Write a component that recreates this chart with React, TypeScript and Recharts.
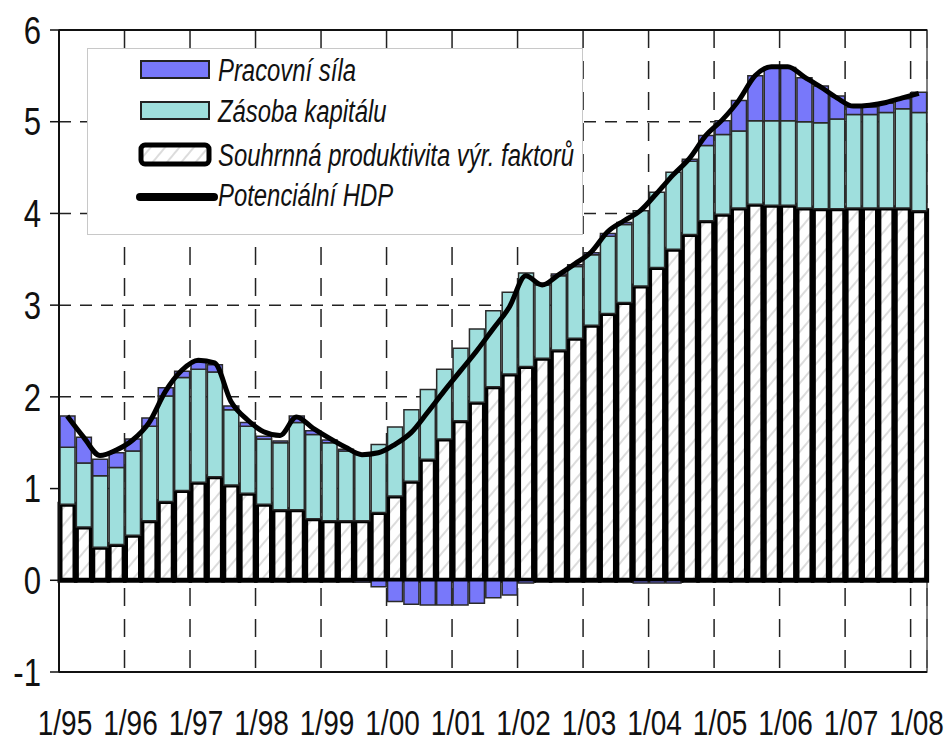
import React from "react";
import {
  ComposedChart,
  Bar,
  Line,
  XAxis,
  YAxis,
  CartesianGrid,
  Legend,
  ReferenceLine,
  ReferenceArea,
} from "recharts";

const quarters = [
  "1/95", "2/95", "3/95", "4/95", "1/96", "2/96", "3/96", "4/96",
  "1/97", "2/97", "3/97", "4/97", "1/98", "2/98", "3/98", "4/98",
  "1/99", "2/99", "3/99", "4/99", "1/00", "2/00", "3/00", "4/00",
  "1/01", "2/01", "3/01", "4/01", "1/02", "2/02", "3/02", "4/02",
  "1/03", "2/03", "3/03", "4/03", "1/04", "2/04", "3/04", "4/04",
  "1/05", "2/05", "3/05", "4/05", "1/06", "2/06", "3/06", "4/06",
  "1/07", "2/07", "3/07", "4/07", "1/08",
];

const yearLabels = [
  "1/95", "1/96", "1/97", "1/98", "1/99", "1/00", "1/01",
  "1/02", "1/03", "1/04", "1/05", "1/06", "1/07", "1/08",
];

// souhrnná produktivita výrobních faktorů
const tfp = [
  0.83, 0.58, 0.36, 0.39, 0.49, 0.65, 0.86, 0.98, 1.07, 1.13,
  1.04, 0.95, 0.83, 0.77, 0.77, 0.67, 0.65, 0.65, 0.65, 0.74,
  0.92, 1.08, 1.32, 1.54, 1.74, 1.94, 2.11, 2.25, 2.33, 2.42,
  2.51, 2.64, 2.78, 2.91, 3.03, 3.21, 3.41, 3.61, 3.77, 3.92,
  3.99, 4.06, 4.10, 4.09, 4.09, 4.06, 4.05, 4.05, 4.06, 4.06,
  4.06, 4.06, 4.03,
];

// zásoba kapitálu
const capital = [
  0.62, 0.70, 0.78, 0.84, 0.92, 1.03, 1.15, 1.23, 1.23, 1.14,
  0.82, 0.73, 0.71, 0.73, 0.95, 0.92, 0.85, 0.76, 0.72, 0.74,
  0.75, 0.78, 0.76, 0.76, 0.79, 0.80, 0.83, 0.89, 1.02, 0.80,
  0.81, 0.78, 0.77, 0.84, 0.85, 0.82, 0.82, 0.84, 0.80, 0.82,
  0.87, 0.84, 0.91, 0.92, 0.92, 0.94, 0.94, 0.98, 1.02, 1.02,
  1.04, 1.08, 1.07,
];

// pracovní síla
const labour = [
  0.34, 0.28, 0.18, 0.16, 0.13, 0.09, 0.09, 0.07, 0.08, 0.08,
  0.04, 0.04, 0.03, 0.02, 0.07, 0.04, 0.03, 0.02, -0.02, -0.07,
  -0.23, -0.26, -0.27, -0.27, -0.27, -0.25, -0.19, -0.16, -0.03, 0.02,
  0.02, 0.02, 0.02, 0.03, 0.02, -0.03, -0.03, -0.03, 0.02, 0.11,
  0.15, 0.33, 0.49, 0.58, 0.58, 0.48, 0.40, 0.25, 0.08, 0.08,
  0.10, 0.11, 0.22,
];

// potenciální HDP
const potentialHdp = [
  1.79, 1.56, 1.36, 1.42, 1.53, 1.72, 2.06, 2.29, 2.40, 2.37,
  1.95, 1.75, 1.62, 1.58, 1.78, 1.66, 1.55, 1.45, 1.37, 1.39,
  1.48, 1.61, 1.83, 2.06, 2.28, 2.50, 2.74, 2.98, 3.32, 3.22,
  3.33, 3.45, 3.58, 3.80, 3.92, 4.03, 4.22, 4.42, 4.60, 4.85,
  5.02, 5.23, 5.50, 5.60, 5.60, 5.49, 5.38, 5.26, 5.17, 5.18,
  5.21, 5.26, 5.31,
];

const yTicks = [-1, 0, 1, 2, 3, 4, 5, 6];

// Arial-like font squeezed horizontally to look like Arial Narrow
const FONT = "'Liberation Sans', Arial, sans-serif";
const BLUE = "#7878fa";
const CYAN = "#9fdfdd";

const data = quarters.map((q, i) => ({
  q,
  pos: i + 0.5,
  tfp: tfp[i],
  capital: capital[i],
  labour: labour[i],
  hdp: potentialHdp[i],
}));

const yearTicks = yearLabels.map((_, i) => i * 4);

function XTick({ x, y, payload }: any) {
  return (
    <g transform={`translate(${x + 6},${y + 55}) scale(0.8,1)`}>
      <text x={0} y={0} textAnchor="middle" fontSize={35} fill="#111" fontFamily={FONT}>
        {yearLabels[payload.value / 4]}
      </text>
    </g>
  );
}

function YTick({ x, y, payload }: any) {
  return (
    <g transform={`translate(${x},${y}) scale(0.82,1)`}>
      <text x={0} y={0} dy="0.36em" textAnchor="end" fontSize={38} fill="#111" fontFamily={FONT}>
        {payload.value}
      </text>
    </g>
  );
}

function LegendBox() {
  const row = (top: number, swatch: React.ReactNode, label: string) => (
    <div style={{ position: "absolute", left: 0, top: top - 20, height: 40, display: "flex", alignItems: "center" }}>
      <svg width={130} height={40} style={{ flex: "none" }}>{swatch}</svg>
      <span
        style={{
          fontFamily: FONT,
          fontStyle: "italic",
          fontSize: 31,
          color: "#111",
          whiteSpace: "nowrap",
          lineHeight: 1,
          display: "inline-block",
          transform: "scaleX(0.77)",
          transformOrigin: "left center",
        }}
      >
        {label}
      </span>
    </div>
  );
  return (
    <div style={{ position: "relative", width: 496, height: 187, background: "#fff", border: "1px solid #c8c8c8", boxSizing: "border-box" }}>
      {row(21, <rect x={53} y={11} width={68} height={17} fill={BLUE} stroke="#222" strokeWidth={2} />, "Pracovní síla")}
      {row(62, <rect x={53} y={11} width={68} height={17} fill={CYAN} stroke="#222" strokeWidth={2} />, "Zásoba kapitálu")}
      {row(106, <rect x={53} y={10} width={68} height={19} rx={4} fill="url(#hatch)" stroke="#000" strokeWidth={5} />, "Souhrnná produktivita výr. faktorů")}
      {row(146, <line x1={52} y1={22} x2={126} y2={22} stroke="#000" strokeWidth={8} strokeLinecap="round" />, "Potenciální HDP")}
    </div>
  );
}

export default function App() {
  return (
    <div style={{ position: "absolute", left: 0, top: 0, background: "#fff" }}>
      <ComposedChart
        width={946}
        height={745}
        data={data}
        stackOffset="sign"
        margin={{ top: 30, right: 19, bottom: 0, left: 0 }}
      >
        <defs>
          <pattern id="hatch" width="11" height="11" patternUnits="userSpaceOnUse" patternTransform="rotate(40)">
            <rect width="11" height="11" fill="#fff" />
            <line x1="0" y1="0" x2="0" y2="11" stroke="#dcdcdc" strokeWidth="4" />
          </pattern>
        </defs>
        <CartesianGrid vertical={false} stroke="#222" strokeWidth={1.5} strokeDasharray="12 9" />
        <CartesianGrid horizontal={false} stroke="#222" strokeWidth={1.5} strokeDasharray="18 13" />
        <XAxis
          dataKey="pos"
          type="number"
          domain={[0, 53]}
          ticks={yearTicks}
          interval={0}
          height={73}
          tickLine={false}
          axisLine={{ stroke: "#111", strokeWidth: 2 }}
          tick={<XTick />}
        />
        <YAxis
          domain={[-1, 6]}
          ticks={yTicks}
          width={59}
          tickSize={9}
          tickMargin={9}
          axisLine={{ stroke: "#111", strokeWidth: 2 }}
          tickLine={{ stroke: "#111", strokeWidth: 1.5 }}
          tick={<YTick />}
        />
        <ReferenceArea x1={0} x2={53} y1={-1} y2={6} fill="none" stroke="#555" strokeWidth={1.5} ifOverflow="visible" />
        <ReferenceLine y={6} stroke="#111" strokeWidth={2} />
        <Bar dataKey="tfp" stackId="a" barSize={15} fill="url(#hatch)" stroke="#000" strokeWidth={5} isAnimationActive={false} />
        <Bar dataKey="capital" stackId="a" barSize={15} fill={CYAN} stroke="#2a2a2a" strokeWidth={1.5} isAnimationActive={false} />
        <Bar dataKey="labour" stackId="a" barSize={15} fill={BLUE} stroke="#2a2a2a" strokeWidth={1.5} isAnimationActive={false} />
        <ReferenceLine y={0} stroke="#000" strokeWidth={2.5} />
        <Line
          type="monotone"
          dataKey="hdp"
          stroke="#000"
          strokeWidth={5}
          dot={false}
          activeDot={false}
          isAnimationActive={false}
        />
        <Legend
          layout="horizontal"
          verticalAlign="middle"
          wrapperStyle={{ left: 87, top: 48, width: 496, height: 187 }}
          content={() => <LegendBox />}
        />
      </ComposedChart>
    </div>
  );
}
